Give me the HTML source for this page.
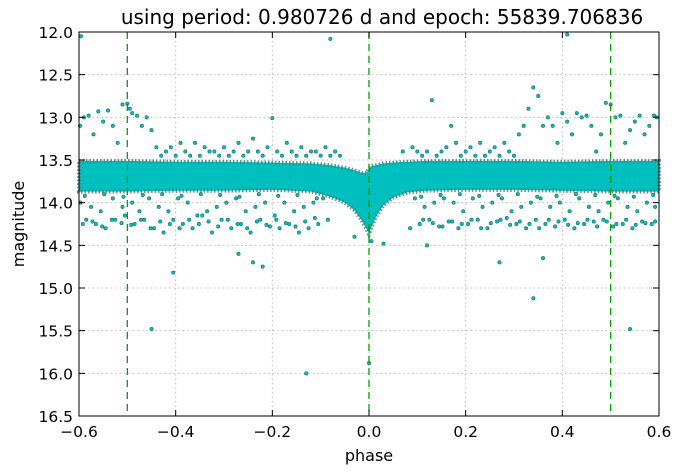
<!DOCTYPE html>
<html><head><meta charset="utf-8"><style>
body{margin:0;background:#fff;}
svg{display:block;font-family:"DejaVu Sans","Liberation Sans",sans-serif;}
</style></head><body>
<svg id="chart" width="682" height="474" viewBox="0 0 682 474" xmlns="http://www.w3.org/2000/svg">
<rect width="682" height="474" fill="#fff"/>
<text x="382" y="24" font-size="20" text-anchor="middle">using period: 0.980726 d and epoch: 55839.706836</text>
<g id="grid"></g>
<g id="marks"></g>
<g id="axes"></g>
<text x="369" y="461" font-size="16" text-anchor="middle">phase</text>
<text transform="translate(24,224) rotate(-90)" font-size="16" text-anchor="middle">magnitude</text>
</svg>
<script>
const xTicks=[-0.6,-0.4,-0.2,0.0,0.2,0.4,0.6];
const xTickLabels=["\u22120.6","\u22120.4","\u22120.2","0.0","0.2","0.4","0.6"];
const yTicks=[12.0,12.5,13.0,13.5,14.0,14.5,15.0,15.5,16.0,16.5];
const yTickLabels=["12.0","12.5","13.0","13.5","14.0","14.5","15.0","15.5","16.0","16.5"];
const vLines=[-0.5,0.0,0.5];
// dense band envelope
const bandPhase=[-0.6,-0.5,-0.4,-0.3,-0.2,-0.12,-0.08,-0.05,-0.03,-0.015,-0.005,0.0,0.005,0.015,0.03,0.05,0.08,0.12,0.2,0.3,0.4,0.5,0.6];
const bandTop=[13.51,13.51,13.52,13.52,13.53,13.54,13.56,13.59,13.62,13.65,13.65,13.6,13.57,13.56,13.54,13.53,13.52,13.51,13.51,13.51,13.52,13.51,13.51];
const bandBottom=[13.87,13.87,13.86,13.86,13.85,13.87,13.93,14.0,14.09,14.21,14.31,14.37,14.29,14.16,14.03,13.94,13.88,13.86,13.85,13.85,13.86,13.87,13.87];
// scattered points
const ptPhase=[-0.598,-0.59,-0.58,-0.57,-0.56,-0.55,-0.54,-0.53,-0.52,-0.51,-0.5,-0.495,-0.49,-0.48,-0.47,-0.46,-0.45,-0.44,-0.43,-0.42,-0.41,-0.4,-0.39,-0.38,-0.37,-0.36,-0.35,-0.34,-0.33,-0.32,-0.31,-0.3,-0.29,-0.28,-0.27,-0.26,-0.25,-0.24,-0.23,-0.22,-0.21,-0.2,-0.19,-0.18,-0.17,-0.16,-0.15,-0.14,-0.13,-0.12,-0.11,-0.1,-0.09,-0.08,-0.07,-0.06,0.07,0.09,0.1,0.11,0.12,0.13,0.14,0.15,0.16,0.17,0.18,0.19,0.2,0.21,0.22,0.23,0.24,0.25,0.26,0.27,0.28,0.29,0.3,0.31,0.32,0.33,0.34,0.35,0.36,0.37,0.38,0.39,0.4,0.41,0.42,0.43,0.44,0.45,0.46,0.47,0.48,0.49,0.5,0.51,0.52,0.53,0.54,0.55,0.56,0.57,0.58,0.59,0.595,
-0.585,-0.565,-0.545,-0.525,-0.505,-0.485,-0.465,-0.445,-0.425,-0.405,-0.385,-0.365,-0.345,-0.325,-0.305,-0.285,-0.265,-0.245,-0.225,-0.205,-0.185,-0.165,-0.145,-0.125,-0.105,-0.085,0.085,0.105,0.125,0.145,0.165,0.185,0.205,0.225,0.245,0.265,0.285,0.305,0.325,0.345,0.365,0.385,0.405,0.425,0.445,0.465,0.485,0.505,0.525,0.545,0.565,0.585,
-0.597,-0.575,-0.555,-0.53,-0.51,-0.49,-0.475,-0.455,-0.435,-0.415,-0.395,-0.375,-0.355,-0.335,-0.315,-0.295,-0.275,-0.255,-0.235,-0.215,-0.195,-0.175,-0.155,-0.135,-0.115,-0.095,0.095,0.115,0.135,0.155,0.175,0.195,0.215,0.235,0.255,0.275,0.295,0.315,0.335,0.355,0.375,0.395,0.415,0.435,0.455,0.475,0.495,0.515,0.535,0.555,0.575,0.592,
-0.596,-0.08,0.41,-0.13,0.0,-0.45,0.54,-0.405,0.34,0.27,0.36,-0.27,-0.22,-0.24,0.12,0.005,-0.03,0.03,
-0.592,-0.572,-0.552,-0.532,-0.512,-0.492,-0.472,-0.452,-0.432,-0.412,-0.392,-0.372,-0.352,-0.332,-0.312,-0.292,-0.272,-0.252,-0.232,-0.212,-0.192,-0.172,-0.152,-0.132,-0.112,0.112,0.132,0.152,0.172,0.192,0.212,0.232,0.252,0.272,0.292,0.312,0.332,0.352,0.372,0.392,0.412,0.432,0.452,0.472,0.492,0.512,0.532,0.552,0.572,0.592,
-0.588,-0.548,-0.508,-0.468,-0.428,-0.388,-0.348,-0.308,-0.268,-0.228,-0.188,-0.148,-0.108,0.108,0.148,0.188,0.228,0.268,0.308,0.348,0.388,0.428,0.468,0.508,0.548,0.588];
const ptMag=[13.1,13.0,12.98,13.2,12.93,13.05,12.92,13.1,13.3,12.85,12.84,12.9,12.95,12.98,13.1,13.0,13.15,13.35,13.45,13.4,13.35,13.45,13.3,13.4,13.45,13.3,13.45,13.35,13.4,13.4,13.45,13.35,13.45,13.4,13.3,13.45,13.4,13.25,13.4,13.45,13.35,13.01,13.4,13.45,13.3,13.4,13.45,13.35,13.45,13.4,13.4,13.45,13.35,13.45,13.4,13.45,13.4,13.35,13.4,13.45,13.4,12.8,13.45,13.4,13.35,13.1,13.3,13.45,13.4,13.35,13.45,13.3,13.45,13.4,13.35,13.45,13.3,13.4,13.45,13.2,13.1,12.9,12.65,12.75,13.1,13.0,13.1,13.3,12.95,13.05,13.2,12.95,13.0,12.98,13.1,13.4,13.2,12.83,12.85,13.0,12.98,13.3,13.15,13.05,12.98,13.2,13.1,12.98,13.0,
14.2,14.25,14.3,14.2,14.15,14.25,14.2,14.3,14.35,14.2,14.25,14.3,14.15,14.35,14.2,14.3,14.25,14.35,14.2,14.28,14.3,14.25,14.35,14.3,14.25,14.2,14.3,14.25,14.2,14.28,14.22,14.3,14.25,14.2,14.3,14.22,14.18,14.25,14.3,14.2,14.25,14.28,14.2,14.3,14.25,14.22,14.2,14.28,14.25,14.3,14.22,14.25,
14.0,14.05,14.1,13.95,14.05,14.0,14.1,13.95,14.05,14.1,13.95,14.0,14.15,14.1,14.05,14.0,13.95,14.1,14.05,14.0,14.15,14.0,14.1,14.05,14.0,13.95,13.95,14.05,14.0,13.95,14.0,14.1,13.95,14.05,14.0,13.95,14.1,14.05,14.0,13.95,14.05,14.0,14.1,13.95,14.05,14.1,14.0,13.95,14.05,14.1,14.0,14.05,
12.05,12.08,12.03,16.0,15.88,15.48,15.48,14.82,15.12,14.7,14.65,14.6,14.75,14.7,14.5,14.45,14.4,14.48,
14.25,14.22,14.28,14.2,14.24,14.26,14.2,14.3,14.22,14.25,14.3,14.2,14.25,14.22,14.28,14.2,14.25,14.3,14.22,14.26,14.2,14.24,14.28,14.22,14.18,14.2,14.24,14.28,14.22,14.25,14.2,14.3,14.24,14.2,14.26,14.22,14.25,14.3,14.2,14.22,14.26,14.24,14.2,14.28,14.22,14.25,14.2,14.26,14.24,14.22,
13.92,13.9,13.93,13.91,13.9,13.92,13.9,13.91,13.93,13.9,13.92,13.91,13.95,13.93,13.91,13.9,13.92,13.91,13.9,13.93,13.92,13.9,13.91,13.92,13.93,13.91];
const X=p=>79+(p+0.6)*(580/1.2);
const Y=m=>32+(m-12)*(384/4.5);
const NS='http://www.w3.org/2000/svg';
function mk(t,a,parent){const e=document.createElementNS(NS,t);for(const k in a)e.setAttribute(k,a[k]);parent.appendChild(e);return e;}
const grid=document.getElementById('grid'),marks=document.getElementById('marks'),axes=document.getElementById('axes');
xTicks.forEach((t,i)=>{
 const g=mk('line',{x1:X(t),x2:X(t),y1:32,y2:416,stroke:'#bbb','stroke-dasharray':'1.5,3'},grid);
 
 
 const lb=mk('text',{x:X(t),y:437,'font-size':15.5,'text-anchor':'middle'},axes);lb.textContent=xTickLabels[i];
 
 
 mk('line',{x1:X(t),x2:X(t),y1:416,y2:410,stroke:'#000'},axes);
 mk('line',{x1:X(t),x2:X(t),y1:32,y2:38,stroke:'#000'},axes);
});
yTicks.forEach((t,i)=>{
 const g=mk('line',{x1:79,x2:659,y1:Y(t),y2:Y(t),stroke:'#bbb','stroke-dasharray':'1.5,3'},grid);
 
 
 const lb=mk('text',{x:73,y:Y(t)+6,'font-size':15.5,'text-anchor':'end'},axes);lb.textContent=yTickLabels[i];
 
 
 mk('line',{x1:79,x2:85,y1:Y(t),y2:Y(t),stroke:'#000'},axes);
 mk('line',{x1:659,x2:653,y1:Y(t),y2:Y(t),stroke:'#000'},axes);
});
// band
let pts=bandPhase.map((p,i)=>X(p)+','+Y(bandTop[i]));
for(let i=bandPhase.length-1;i>=0;i--)pts.push(X(bandPhase[i])+','+Y(bandBottom[i]));
const band=mk('polygon',{points:pts.join(' '),fill:'#00bfbf',stroke:'#3a8080','stroke-width':4,'stroke-dasharray':'1.5,2','stroke-opacity':0.8},marks);


ptPhase.forEach((p,i)=>{
 const c=mk('circle',{cx:X(p),cy:Y(ptMag[i]),r:1.7,fill:'#00bfbf',stroke:'#2a6a6a','stroke-width':0.6},marks);
 
 
});
vLines.forEach(v=>{
 const l=mk('line',{x1:X(v),x2:X(v),y1:32,y2:416,stroke:'#00a000','stroke-width':1.3,'stroke-dasharray':'7,5'},marks);
 
 
});
const fr=mk('rect',{x:79,y:32,width:580,height:384,fill:'none',stroke:'#000','stroke-width':1},axes);


</script>
</body></html>
